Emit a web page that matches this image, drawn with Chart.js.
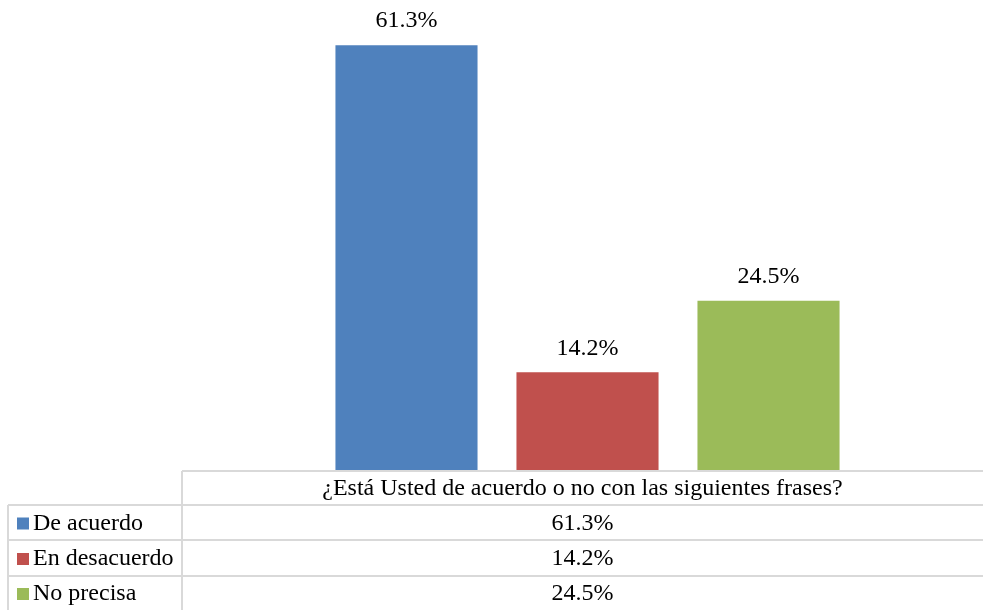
<!DOCTYPE html>
<html>
<head>
<meta charset="utf-8">
<script src="https://cdn.jsdelivr.net/npm/chart.js@4"></script>
<style>
  html, body { margin: 0; padding: 0; background: #fff; }
  #wrap { width: 983px; height: 610px; }
</style>
</head>
<body>
<div id="wrap"><canvas id="chart" width="983" height="610"></canvas></div>
<script>
const categories = ['¿Está Usted de acuerdo o no con las siguientes frases?'];
const seriesNames = ['De acuerdo', 'En desacuerdo', 'No precisa'];
const seriesValues = [[61.3], [14.2], [24.5]];
const seriesColors = ['#4f81bd', '#c0504d', '#9bbb59'];

const FONT = '24px "Liberation Serif", "Times New Roman", serif';

// value labels above each bar
const barLabels = {
  id: 'barLabels',
  afterDatasetsDraw(chart) {
    const ctx = chart.ctx;
    ctx.save();
    ctx.font = FONT;
    ctx.fillStyle = '#000';
    ctx.textAlign = 'center';
    ctx.textBaseline = 'bottom';
    chart.data.datasets.forEach((ds, i) => {
      chart.getDatasetMeta(i).data.forEach((bar, j) => {
        ctx.fillText(ds.data[j].toFixed(1) + '%', bar.x, bar.y - 12);
      });
    });
    ctx.restore();
  }
};

// data table under the plot area
const dataTable = {
  id: 'dataTable',
  afterDraw(chart) {
    const ctx = chart.ctx;
    const a = chart.chartArea;
    const left = 8, colX = 182, right = 983;
    const top = a.bottom;
    const rows = [top, top + 34, top + 69, top + 105, top + 139];
    ctx.save();
    ctx.strokeStyle = '#d9d9d9';
    ctx.lineWidth = 2;
    ctx.beginPath();
    ctx.moveTo(colX, rows[0]); ctx.lineTo(right, rows[0]);
    for (let r = 1; r < 4; r++) {
      ctx.moveTo(left, rows[r]); ctx.lineTo(right, rows[r]);
    }
    ctx.moveTo(colX, rows[0]); ctx.lineTo(colX, rows[4]);
    ctx.moveTo(left, rows[1]); ctx.lineTo(left, rows[4]);
    ctx.stroke();

    const midX = (colX + right) / 2;
    ctx.font = FONT;
    ctx.fillStyle = '#000';
    ctx.textBaseline = 'middle';
    ctx.textAlign = 'center';
    ctx.fillText(categories[0], midX, (rows[0] + rows[1]) / 2 + 1);
    chart.data.datasets.forEach((ds, i) => {
      const cy = (rows[i + 1] + rows[i + 2]) / 2 + 1;
      ctx.textAlign = 'center';
      ctx.fillStyle = '#000';
      ctx.fillText(ds.data[0].toFixed(1) + '%', midX, cy);
      ctx.fillStyle = ds.backgroundColor;
      ctx.fillRect(17, cy - 6, 12, 12);
      ctx.fillStyle = '#000';
      ctx.textAlign = 'left';
      ctx.fillText(ds.label, 33, cy);
    });
    ctx.restore();
  }
};

new Chart(document.getElementById('chart'), {
  type: 'bar',
  data: {
    labels: categories,
    datasets: seriesNames.map((name, i) => ({
      label: name,
      data: seriesValues[i],
      backgroundColor: seriesColors[i],
      borderWidth: 0,
      categoryPercentage: 0.6865,
      barPercentage: 0.785
    }))
  },
  options: {
    responsive: false,
    animation: false,
    layout: { padding: { left: 192, right: 0, top: 0, bottom: 139 } },
    plugins: {
      legend: { display: false },
      tooltip: { enabled: false }
    },
    scales: {
      x: { display: false },
      y: { display: false, min: 0, max: 67.8 }
    }
  },
  plugins: [barLabels, dataTable]
});
</script>
</body>
</html>
